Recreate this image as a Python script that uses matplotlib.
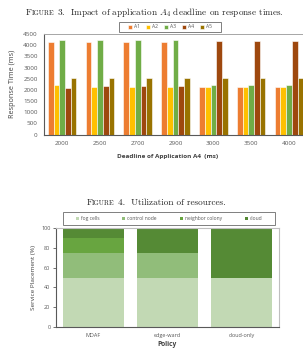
import matplotlib
matplotlib.use("Agg")
import matplotlib.pyplot as plt
from matplotlib.patches import Rectangle
import numpy as np

# Figure 3 data: response time (ms) per application vs A4 deadline
deadlines = ["2000", "2500", "2700", "2900", "3000", "3500", "4000"]
apps = ["A1", "A2", "A3", "A4", "A5"]
a1 = [4150, 4150, 4150, 4150, 2120, 2120, 2120]
a2 = [2220, 2110, 2110, 2110, 2120, 2120, 2120]
a3 = [4250, 4250, 4250, 4250, 2200, 2200, 2200]
a4 = [2070, 2180, 2180, 2180, 4180, 4180, 4180]
a5 = [2520, 2520, 2520, 2520, 2520, 2520, 2520]
app_colors = ["#ED7D31", "#FFC000", "#70AD47", "#9E480E", "#997300"]

# Figure 4 data: service placement (%) per policy
policies = ["MDAF", "edge-ward", "cloud-only"]
layers = ["fog cells", "control node", "neighbor colony", "cloud"]
fog_cells = [50, 50, 50]
control_node = [25, 25, 0]
neighbor_colony = [15, 0, 0]
cloud = [10, 25, 50]
layer_colors = ["#C2D9B4", "#91BD7A", "#68A540", "#558A35"]

plt.rcParams["mathtext.fontset"] = "cm"
plt.rcParams["font.family"] = ["Open Sans", "DejaVu Sans"]

W, H = 303, 356
fig = plt.figure(figsize=(W / 100, H / 100), dpi=100)
fig.patch.set_facecolor("white")
renderer = fig.canvas.get_renderer()


def fx(px):
    return px / W


def fy(px):
    return 1 - px / H


def caption(y_px, pieces, cx_px):
    # small-caps style caption built from (text, size) pieces
    texts = []
    for s, size in pieces:
        t = fig.text(0, fy(y_px), s, fontsize=size, family="cmr10",
                     ha="left", va="baseline", color="#222222")
        texts.append(t)
    widths = [t.get_window_extent(renderer).width for t in texts]
    x = cx_px - sum(widths) / 2
    for t, w in zip(texts, widths):
        t.set_x(x / W)
        x += w


def legend_box(x0, y0, x1, y1):
    fig.patches.append(Rectangle((fx(x0), fy(y1)), fx(x1 - x0), (y1 - y0) / H,
                                 transform=fig.transFigure, fill=False,
                                 edgecolor="#7F7F7F", linewidth=0.7))


# ---------------- Figure 3 ----------------
caption(15, [("F", 6.6), ("IGURE", 5.0),
             (" 3.  Impact of application $A_4$ deadline on response times.", 6.6)], 155)

ax1 = fig.add_axes([fx(44), fy(134.5), fx(262), (134.5 - 34) / H])
x = np.arange(len(deadlines))
series = [a1, a2, a3, a4, a5]
bw = 0.151
for i, (vals, name) in enumerate(zip(series, apps)):
    ax1.bar(x + (i - 2) * bw, vals, width=bw, color=app_colors[i],
            edgecolor="white", linewidth=0.4, label=name)
ax1.set_xlim(-0.48, 6.45)
ax1.set_ylim(0, 4500)
ax1.set_yticks(np.arange(0, 4501, 500))
ax1.set_xticks(x)
ax1.set_xticklabels(deadlines)
ax1.tick_params(length=0, labelsize=4.5, colors="#595959", pad=4.5)
for side in ["left", "bottom"]:
    ax1.spines[side].set_color("#595959")
    ax1.spines[side].set_linewidth(0.8)
ax1.spines["top"].set_color("#A6A6A6")
ax1.spines["top"].set_linewidth(0.7)
ax1.spines["right"].set_visible(False)
ax1.set_xlabel("Deadline of Application A4  (ms)", fontsize=4.6, fontweight="bold",
               color="#404040")
ax1.xaxis.set_label_coords(fx(168 - 44) / fx(262), -0.19)
ax1.set_ylabel("Response Time (ms)", fontsize=5.2, color="#404040", labelpad=5)

legend_box(119, 22, 221, 32)
fig.legend(*ax1.get_legend_handles_labels(), loc="center", ncol=5,
           bbox_to_anchor=(fx(170), fy(27)), fontsize=3.6, frameon=False,
           handlelength=0.7, handleheight=0.7, handletextpad=0.4,
           labelcolor="#595959", columnspacing=1.3)

# ---------------- Figure 4 ----------------
caption(205, [("F", 6.6), ("IGURE", 5.0), (" 4.  Utilization of resources.", 6.6)], 156)

ax2 = fig.add_axes([fx(56), fy(327), fx(223), (327 - 228) / H])
xp = np.arange(len(policies))
bottom = np.zeros(len(policies))
for vals, name, c in zip([fog_cells, control_node, neighbor_colony, cloud], layers, layer_colors):
    ax2.bar(xp, vals, bottom=bottom, width=0.82, color=c, label=name, linewidth=0)
    bottom += np.array(vals)
ax2.set_xlim(-0.5, 2.5)
ax2.set_ylim(0, 100)
ax2.set_yticks(np.arange(0, 101, 20))
ax2.set_xticks(xp)
ax2.set_xticklabels(policies)
ax2.tick_params(axis="y", length=2, width=0.6, color="#595959", labelsize=4,
                labelcolor="#595959", pad=2)
ax2.tick_params(axis="x", length=0, labelsize=4, labelcolor="#595959", pad=4)
ax2.spines["left"].set_color("#595959")
ax2.spines["bottom"].set_color("#595959")
ax2.spines["left"].set_linewidth(0.8)
ax2.spines["bottom"].set_linewidth(0.8)
for side in ["top", "right"]:
    ax2.spines[side].set_color("#BFBFBF")
    ax2.spines[side].set_linewidth(0.8)
ax2.set_xlabel("Policy", fontsize=4.8, fontweight="bold", color="#404040", labelpad=2.5)
ax2.set_ylabel("Service Placement (%)", fontsize=4.6, color="#404040", labelpad=4)

legend_box(63, 212, 275, 225)
fig.legend(*ax2.get_legend_handles_labels(), loc="center", ncol=4,
           bbox_to_anchor=(fx(169), fy(218.5)), fontsize=3.6, frameon=False,
           handlelength=0.6, handleheight=0.6, handletextpad=0.4,
           labelcolor="#595959", columnspacing=4.6)

fig.savefig("out.png", dpi=100)
